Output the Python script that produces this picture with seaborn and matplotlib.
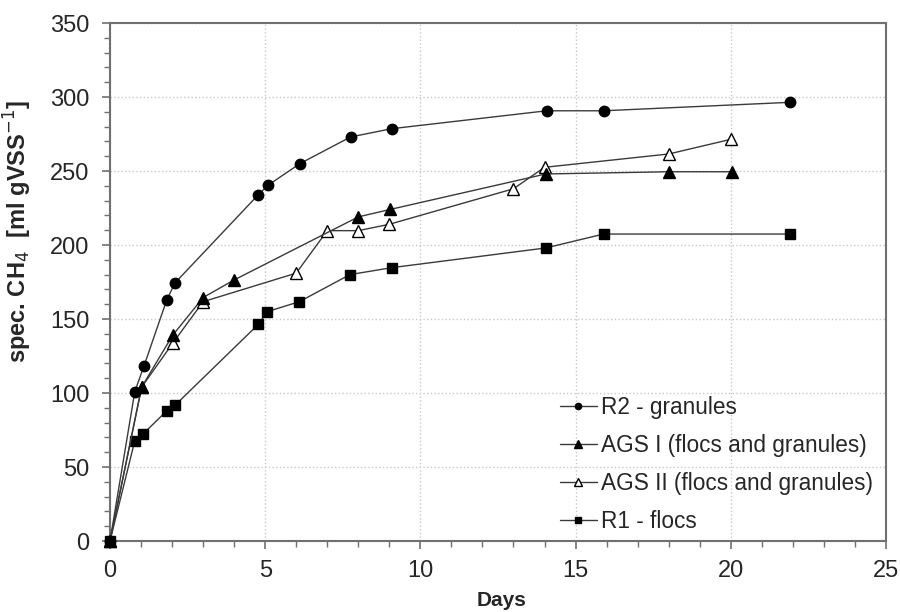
import pandas as pd
import seaborn as sns
import matplotlib.pyplot as plt
from matplotlib.ticker import MultipleLocator

# Data
r2_days = [0, 0.8, 1.1, 1.83, 2.1, 4.78, 5.1, 6.12, 7.75, 9.08, 14.07, 15.9, 21.9]
r2_ch4 = [0, 101, 118.5, 163, 174.5, 234, 240.5, 255, 273, 278.6, 290.7, 290.7, 296.4]

ags1_days = [0, 1.02, 2.02, 3.0, 4.0, 8.0, 9.02, 14.04, 18.0, 20.03]
ags1_ch4 = [0, 104, 139, 164.5, 176.4, 219, 224, 248, 249.5, 249.5]

ags2_days = [0, 1.02, 2.02, 3.0, 6.0, 7.0, 8.0, 9.0, 13.0, 14.0, 18.0, 20.0]
ags2_ch4 = [0, 104, 133.6, 161.7, 181, 209.7, 209.7, 214, 238, 252.5, 261.5, 271.4]

r1_days = [0, 0.8, 1.05, 1.83, 2.11, 4.78, 5.07, 6.1, 7.73, 9.08, 14.04, 15.9, 21.9]
r1_ch4 = [0, 67.8, 72, 88, 92, 146.4, 155, 161.7, 180, 184.7, 198, 207.4, 207.4]

labels = ['R2 - granules', 'AGS I (flocs and granules)',
          'AGS II (flocs and granules)', 'R1 - flocs']


def create_plot():
    sns.set_style('white')
    plt.rcParams['font.family'] = ['Liberation Sans', 'DejaVu Sans']

    frames = []
    for name, d, v in zip(labels, [r2_days, ags1_days, ags2_days, r1_days],
                          [r2_ch4, ags1_ch4, ags2_ch4, r1_ch4]):
        frames.append(pd.DataFrame({'Days': d, 'CH4': v, 'series': name}))
    df = pd.concat(frames, ignore_index=True)

    fig = plt.figure(figsize=(9, 6.12), dpi=100)
    ax = fig.add_axes([0.1222, 0.116, 0.8622, 0.8464])

    styles = {
        labels[0]: dict(marker='o', mfc='black', ms=7.5),
        labels[1]: dict(marker='^', mfc='black', ms=8.5),
        labels[2]: dict(marker='^', mfc='white', ms=8.5),
        labels[3]: dict(marker='s', mfc='black', ms=7),
    }
    # draw in reverse so circles sit on top
    for name in labels[::-1]:
        st = styles[name]
        sub = df[df['series'] == name]
        sns.lineplot(data=sub, x='Days', y='CH4', ax=ax, sort=False,
                     color='#3a3a3a', linewidth=1.0, label=name,
                     marker=st['marker'], markersize=st['ms'],
                     markerfacecolor=st['mfc'], markeredgecolor='black',
                     markeredgewidth=1.0)
    # markers at the origin sit over the axes corner
    for line in ax.lines:
        line.set_clip_on(False)
        line.set_zorder(3)

    ax.set_xlim(0, 25)
    ax.set_ylim(0, 350)
    ax.xaxis.set_major_locator(MultipleLocator(5))
    ax.xaxis.set_minor_locator(MultipleLocator(1))
    ax.yaxis.set_major_locator(MultipleLocator(50))
    ax.yaxis.set_minor_locator(MultipleLocator(10))
    ax.grid(True, which='major', linestyle=':', color='#c8c8c8', linewidth=1.0)
    ax.set_axisbelow(True)

    for sp in ax.spines.values():
        sp.set_color('#707070')
        sp.set_linewidth(1.5)
        sp.set_visible(True)
    ax.tick_params(which='major', direction='out', length=6, width=1.2,
                   color='#707070', labelsize=17, left=True, bottom=True)
    ax.tick_params(axis='x', which='major', pad=8)
    ax.tick_params(axis='y', which='major', pad=9)
    ax.tick_params(which='minor', direction='out', length=4, width=1.0,
                   color='#707070', left=True, bottom=True)

    ax.set_xlabel('Days', fontsize=15, fontweight='bold')
    ax.xaxis.set_label_coords(0.505, -0.097)
    ax.set_ylabel(r'spec. CH$_{4}$  [ml gVSS$^{-1}$]', fontsize=17,
                  fontweight='bold')
    ax.yaxis.set_label_coords(-0.098, 0.598)

    handles, labs = ax.get_legend_handles_labels()
    order = [labs.index(l) for l in labels]
    ax.legend([handles[i] for i in order], labels, loc='lower left',
              bbox_to_anchor=(0.56, -0.015), frameon=False, fontsize=16.3,
              markerscale=0.6, handlelength=1.6, handletextpad=0.2,
              labelspacing=0.66, borderpad=0.2)

    fig.savefig('out.png', dpi=100)


if __name__ == "__main__":
    create_plot()
